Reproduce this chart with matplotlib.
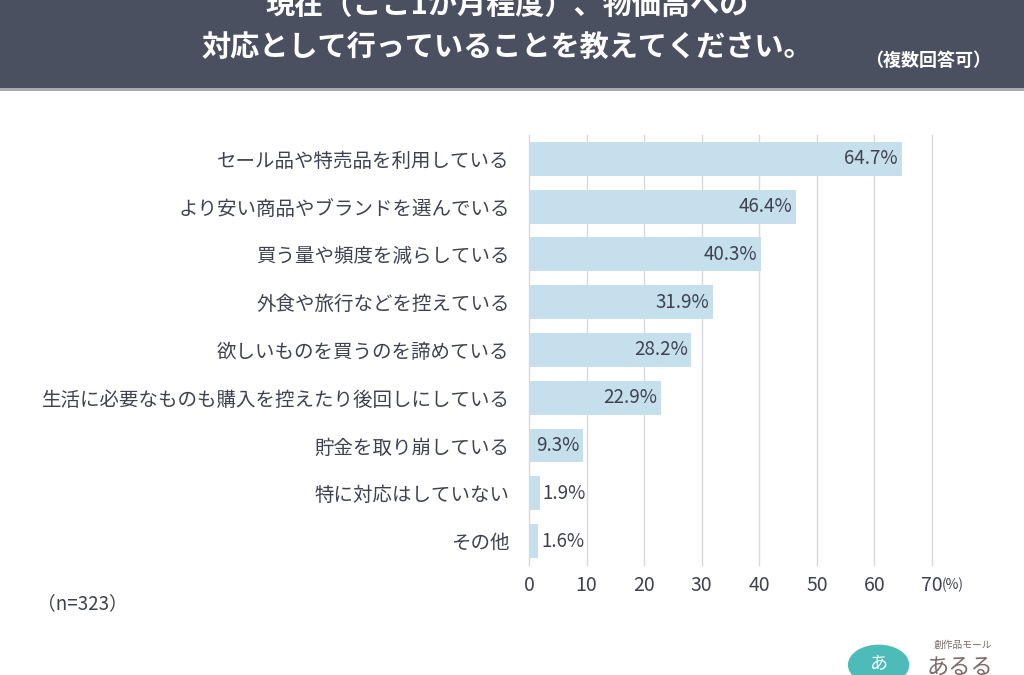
import matplotlib
matplotlib.use("Agg")
import matplotlib.pyplot as plt
from matplotlib.patches import Rectangle, Circle

plt.rcParams["font.family"] = ["Noto Sans CJK JP", "DejaVu Sans"]

categories = [
    "セール品や特売品を利用している",
    "より安い商品やブランドを選んでいる",
    "買う量や頻度を減らしている",
    "外食や旅行などを控えている",
    "欲しいものを買うのを諦めている",
    "生活に必要なものも購入を控えたり後回しにしている",
    "貯金を取り崩している",
    "特に対応はしていない",
    "その他",
]
values = [64.7, 46.4, 40.3, 31.9, 28.2, 22.9, 9.3, 1.9, 1.6]
xticks = [0, 10, 20, 30, 40, 50, 60, 70]

title_l1 = "現在（ここ1か月程度）、物価高への"
title_l2 = "対応として行っていることを教えてください。"
note = "（複数回答可）"
sample = "（n=323）"

BANNER = "#4b5061"
BAR = "#c6dfec"
TEXT = "#3f4350"
GRID = "#d9d9d9"

fig = plt.figure(figsize=(10.24, 6.75), dpi=100)

# header banner
fig.patches.append(Rectangle((0, 0.868), 1, 0.132, transform=fig.transFigure,
                             facecolor=BANNER, edgecolor="none", zorder=0))
fig.patches.append(Rectangle((0, 0.865), 1, 0.004, transform=fig.transFigure,
                             facecolor="#a9abb2", edgecolor="none", zorder=0))
fig.text(0.495, 0.993, title_l1, color="white", fontsize=21, fontweight="bold",
         ha="center", va="center")
fig.text(0.495, 0.930, title_l2, color="white", fontsize=21, fontweight="bold",
         ha="center", va="center")
fig.text(0.906, 0.911, note, color="white", fontsize=13, fontweight="bold",
         ha="center", va="center")

ax = fig.add_axes([0.5166, 0.163, 0.3936, 0.637])
y = list(range(len(categories)))
ax.barh(y, values, height=0.71, color=BAR, zorder=2)
ax.set_xlim(0, 70)
ax.set_ylim(len(categories) - 0.5, -0.5)

for i, v in enumerate(values):
    if v > 5:
        ax.text(v - 0.6, i, f"{v}%", ha="right", va="center", fontsize=13.5,
                color=TEXT, zorder=3)
    else:
        ax.text(v + 0.5, i, f"{v}%", ha="left", va="center", fontsize=13.5,
                color=TEXT, zorder=3)

ax.set_yticks(y)
ax.set_yticklabels(categories, fontsize=14, color=TEXT)
ax.set_xticks(xticks)
ax.set_xticklabels([str(t) for t in xticks], fontsize=14, color=TEXT)
ax.tick_params(axis="both", length=0)
ax.tick_params(axis="y", pad=14)
ax.tick_params(axis="x", pad=7)
ax.grid(axis="x", color=GRID, linewidth=1, zorder=0)
for line in ax.get_xgridlines():
    line.set_clip_on(False)
for s in ax.spines.values():
    s.set_visible(False)
ax.annotate("(%)", xy=(70, 0), xycoords=ax.get_xaxis_transform(),
            xytext=(7, -14), textcoords="offset points", fontsize=10,
            color=TEXT, ha="left", va="center")
fig.text(0.036, 0.105, sample, fontsize=13.5, color=TEXT, ha="left",
         va="center")

# logo (approximate)
fig.patches.append(Circle((0.858, 0.015), 0.03, transform=fig.transFigure,
                          facecolor="#4dbcb8", edgecolor="none"))
fig.text(0.858, 0.018, "あ", color="white", fontsize=13, ha="center",
         va="center")
fig.text(0.912, 0.045, "創作品モール", color="#7a6a66", fontsize=7, ha="left",
         va="center")
fig.text(0.905, 0.012, "あるる", color="#7a6a66", fontsize=16, ha="left",
         va="center")

fig.savefig("out.png", dpi=100, facecolor="white")
